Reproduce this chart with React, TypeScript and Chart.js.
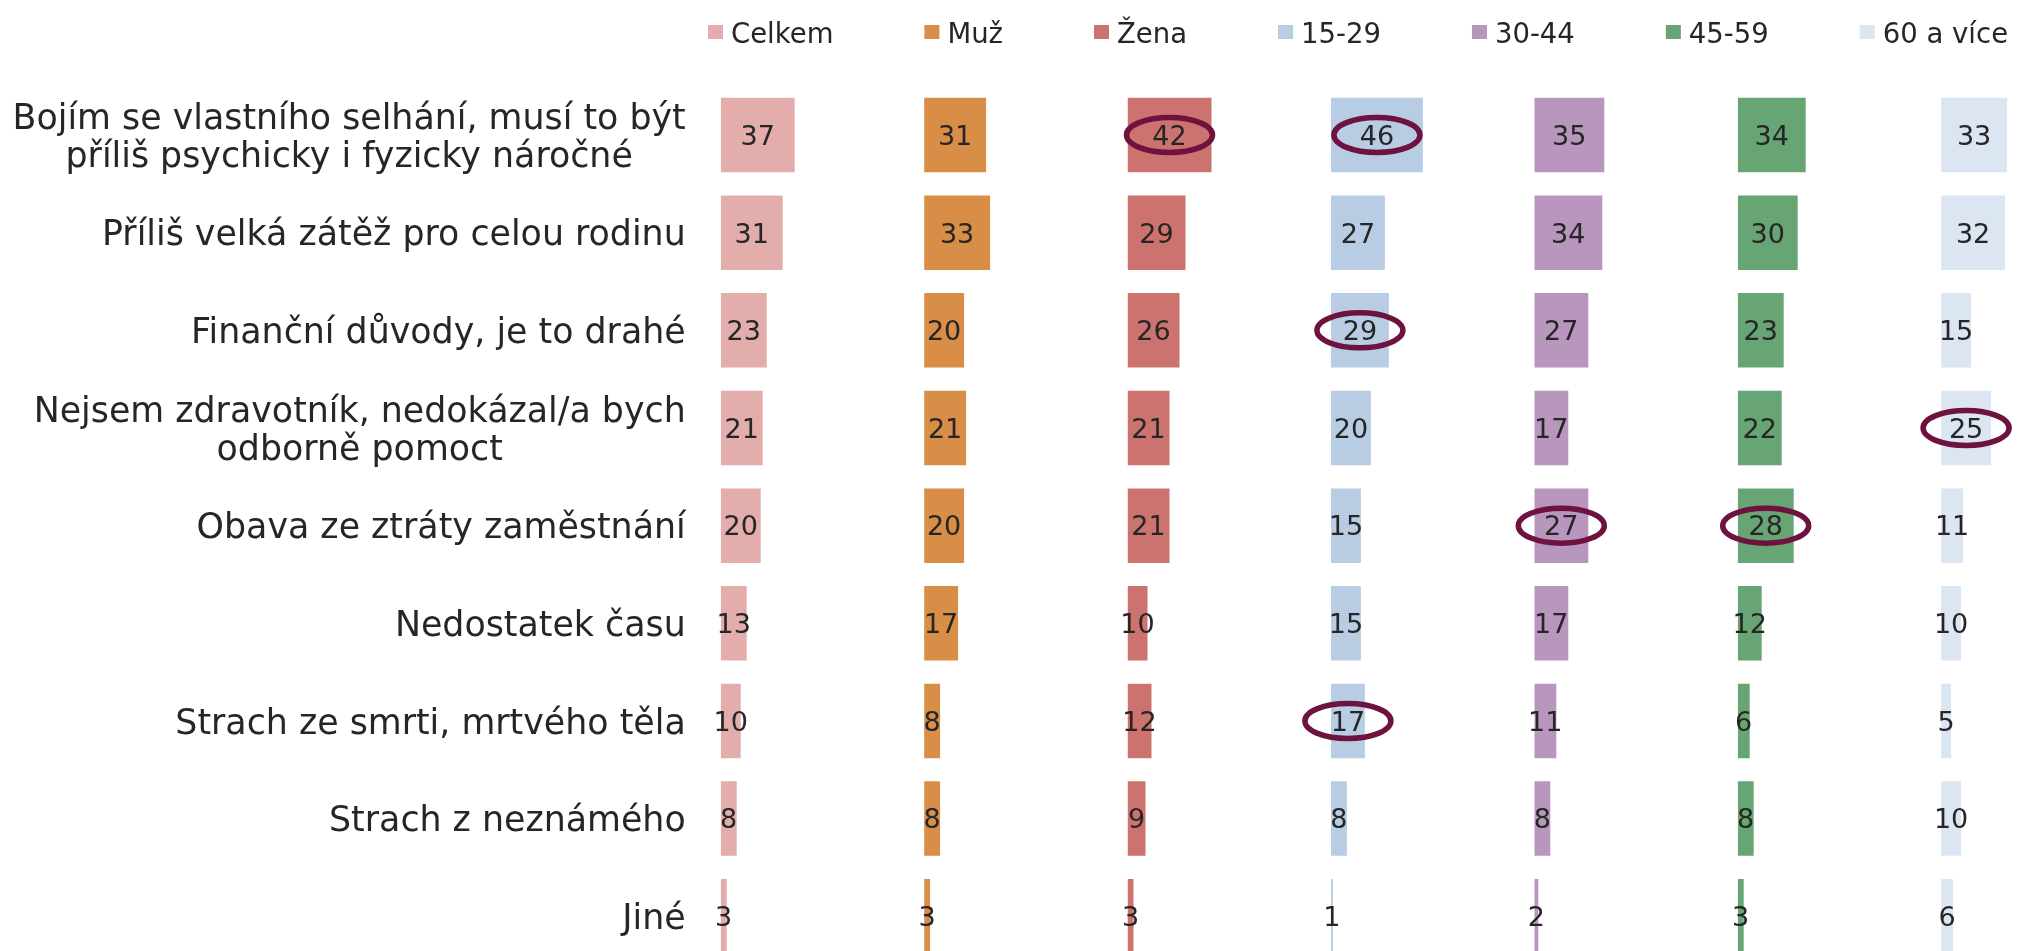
import React, { useEffect, useRef } from "react";
import { Chart, registerables } from "chart.js";

Chart.register(...registerables);

// ---------- data ----------
const categories: string[][] = [
  ["Bojím se vlastního selhání, musí to být", "příliš psychicky i fyzicky náročné"],
  ["Příliš velká zátěž pro celou rodinu"],
  ["Finanční důvody, je to drahé"],
  ["Nejsem zdravotník, nedokázal/a bych", "odborně pomoct"],
  ["Obava ze ztráty zaměstnání"],
  ["Nedostatek času"],
  ["Strach ze smrti, mrtvého těla"],
  ["Strach z neznámého"],
  ["Jiné"],
];

const seriesNames = ["Celkem", "Muž", "Žena", "15-29", "30-44", "45-59", "60 a více"];

const celkem = [37, 31, 23, 21, 20, 13, 10, 8, 3];
const muz = [31, 33, 20, 21, 20, 17, 8, 8, 3];
const zena = [42, 29, 26, 21, 21, 10, 12, 9, 3];
const age15to29 = [46, 27, 29, 20, 15, 15, 17, 8, 1];
const age30to44 = [35, 34, 27, 17, 27, 17, 11, 8, 2];
const age45to59 = [34, 30, 23, 22, 28, 12, 6, 8, 3];
const age60plus = [33, 32, 15, 25, 11, 10, 5, 10, 6];

const seriesValues = [celkem, muz, zena, age15to29, age30to44, age45to59, age60plus];

const seriesColors = ["#E3ADAC", "#D98E47", "#CD736F", "#B8CCE4", "#B896BE", "#67A574", "#DCE6F2"];

// [series index, category index] of circled values
const highlights: [number, number][] = [
  [2, 0],
  [3, 0],
  [3, 2],
  [6, 3],
  [4, 4],
  [5, 4],
  [3, 6],
];

// ---------- styling ----------
const FONT = '"DejaVu Sans", Verdana, sans-serif';
const TEXT_COLOR = "#262626";
const LABEL_FONT_SIZE = 34.8;
const LABEL_LINE_HEIGHT = 38;
const VALUE_FONT_SIZE = 27;
const LEGEND_FONT_SIZE = 27.5;
const CANVAS_W = 2150;
const CANVAS_H = 1000;
const PANEL_MAX = 101.7;

const yLabelPlugin = {
  id: "yLabels",
  afterDraw(chart: any) {
    const ctx = chart.ctx as CanvasRenderingContext2D;
    const yScale = chart.scales.y;
    const right = chart.chartArea.left - 35;
    ctx.save();
    ctx.font = `${LABEL_FONT_SIZE}px ${FONT}`;
    ctx.fillStyle = TEXT_COLOR;
    ctx.textBaseline = "alphabetic";
    const capHalf = (LABEL_FONT_SIZE * 0.729) / 2;
    categories.forEach((lines, i) => {
      const cy = yScale.getPixelForTick(i);
      const widths = lines.map((l) => ctx.measureText(l).width);
      const blockW = Math.max(...widths);
      const n = lines.length;
      lines.forEach((line, j) => {
        const baseline = cy + (j - (n - 1) / 2) * LABEL_LINE_HEIGHT + capHalf;
        if (n === 1) {
          ctx.textAlign = "right";
          ctx.fillText(line, right, baseline);
        } else {
          ctx.textAlign = "center";
          ctx.fillText(line, right - blockW / 2, baseline);
        }
      });
    });
    ctx.restore();
  },
};

const valueLabelPlugin = {
  id: "valueLabels",
  afterDatasetsDraw(chart: any) {
    const ctx = chart.ctx as CanvasRenderingContext2D;
    ctx.save();
    ctx.font = `${VALUE_FONT_SIZE}px ${FONT}`;
    ctx.fillStyle = TEXT_COLOR;
    ctx.textAlign = "center";
    ctx.textBaseline = "alphabetic";
    const capHalf = (VALUE_FONT_SIZE * 0.729) / 2;
    chart.data.datasets.forEach((ds: any, di: number) => {
      const meta = chart.getDatasetMeta(di);
      meta.data.forEach((el: any, i: number) => {
        const cx = (el.x + el.base) / 2;
        ctx.fillText(String(ds.data[i]), cx, el.y + capHalf);
      });
    });
    // circled highlights
    ctx.strokeStyle = "#6E1240";
    ctx.lineWidth = 5.5;
    highlights.forEach(([di, i]) => {
      const el = chart.getDatasetMeta(di).data[i];
      if (!el) return;
      const cx = (el.x + el.base) / 2;
      ctx.beginPath();
      ctx.ellipse(cx, el.y, 43, 17.5, 0, 0, Math.PI * 2);
      ctx.stroke();
    });
    ctx.restore();
  },
};

const legendPlugin = {
  id: "panelLegend",
  afterDraw(chart: any) {
    const ctx = chart.ctx as CanvasRenderingContext2D;
    ctx.save();
    ctx.font = `${LEGEND_FONT_SIZE}px ${FONT}`;
    ctx.textAlign = "left";
    ctx.textBaseline = "alphabetic";
    let x = 708;
    const boxTop = 25;
    const baseline = 42.5;
    chart.data.datasets.forEach((ds: any) => {
      ctx.fillStyle = ds.backgroundColor;
      ctx.fillRect(x, boxTop, 15, 14);
      ctx.fillStyle = TEXT_COLOR;
      ctx.fillText(ds.label, x + 23, baseline);
      x += 23 + ctx.measureText(ds.label).width + 91;
    });
    ctx.restore();
  },
};

export default function App() {
  const canvasRef = useRef<HTMLCanvasElement | null>(null);

  useEffect(() => {
    const canvas = canvasRef.current;
    if (!canvas) return;

    const scales: any = {
      y: {
        type: "category",
        offset: true,
        grid: { display: false },
        border: { display: false },
        ticks: { display: false },
        afterFit: (scale: any) => {
          scale.width = 720.7;
        },
      },
    };
    seriesNames.forEach((_, i) => {
      scales[`x${i}`] = {
        type: "linear",
        axis: "x",
        position: "bottom",
        stack: "panels",
        stackWeight: 1,
        min: 0,
        max: PANEL_MAX,
        display: false,
        grid: { display: false },
      };
    });

    const chart = new Chart(canvas, {
      type: "bar",
      data: {
        labels: categories,
        datasets: seriesNames.map((name, i) => ({
          label: name,
          data: seriesValues[i],
          backgroundColor: seriesColors[i],
          borderWidth: 0,
          xAxisID: `x${i}`,
          yAxisID: "y",
          grouped: false,
          barPercentage: 0.763,
          categoryPercentage: 1,
        })),
      },
      options: {
        indexAxis: "y",
        responsive: false,
        animation: false,
        events: [],
        layout: { padding: { left: 0, top: 86.2, right: 5.5, bottom: 34.9 } },
        scales,
        plugins: {
          legend: { display: false },
          tooltip: { enabled: false },
          title: { display: false },
        },
      } as any,
      plugins: [valueLabelPlugin, yLabelPlugin, legendPlugin],
    });

    return () => chart.destroy();
  }, []);

  return (
    <div
      style={{
        position: "fixed",
        left: 0,
        top: 0,
        width: "100vw",
        height: "100vh",
        overflow: "hidden",
        background: "#ffffff",
      }}
    >
      <canvas
        ref={canvasRef}
        width={CANVAS_W}
        height={CANVAS_H}
        style={{ display: "block", width: CANVAS_W, height: CANVAS_H }}
      />
    </div>
  );
}
